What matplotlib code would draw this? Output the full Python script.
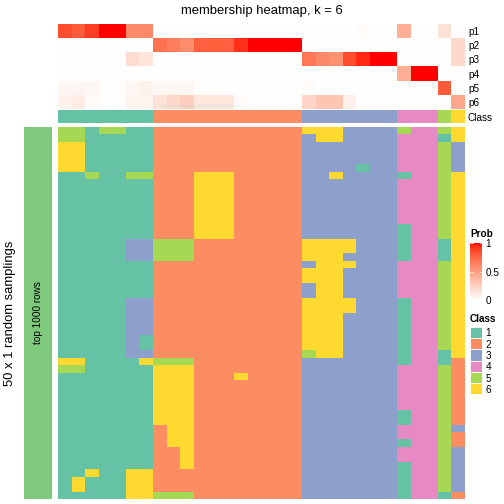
#
# Membership heatmap for k = 6: class probabilities on top, class calls
# from 50 random samplings below
#

import numpy as np
import matplotlib
matplotlib.use("Agg")
import matplotlib.pyplot as plt
from matplotlib.colors import ListedColormap, to_rgb

plt.rcParams['font.family'] = ['Liberation Sans', 'DejaVu Sans']

# membership probabilities per column (30 columns)
p1 = [0.85, 0.8, 0.9, 1, 1, 0.6, 0.6, 0, 0, 0, 0, 0, 0, 0, 0, 0, 0, 0,
      0, 0, 0, 0, 0.02, 0, 0, 0.42, 0, 0, 0.15, 0]
p2 = [0, 0, 0, 0, 0, 0, 0, 0.7, 0.65, 0.58, 0.78, 0.78, 0.78, 0.93, 1, 1, 1, 1,
      0, 0, 0, 0, 0, 0, 0, 0, 0, 0, 0, 0.2]
p3 = [0, 0, 0, 0, 0, 0.18, 0.14, 0, 0, 0, 0, 0, 0, 0, 0, 0, 0, 0,
      0.68, 0.6, 0.56, 0.85, 0.95, 1, 1, 0, 0, 0, 0, 0.2]
p4 = [0, 0, 0, 0, 0, 0, 0, 0, 0, 0, 0, 0, 0, 0, 0, 0, 0, 0,
      0, 0, 0, 0, 0, 0, 0, 0.42, 1, 1, 0, 0]
p5 = [0.05, 0.05, 0.04, 0, 0, 0.05, 0.07, 0.05, 0.05, 0.05, 0, 0, 0, 0, 0, 0, 0, 0,
      0.02, 0, 0, 0, 0, 0, 0, 0, 0, 0, 0.8, 0]
p6 = [0.07, 0.1, 0.02, 0, 0, 0.06, 0.06, 0.15, 0.2, 0.25, 0.13, 0.13, 0.13, 0.02, 0, 0, 0, 0,
      0.22, 0.3, 0.3, 0.08, 0, 0, 0, 0, 0, 0, 0, 0.45]
prob_names = ["p1", "p2", "p3", "p4", "p5", "p6"]

# consensus class of every column
col_class = [1]*7 + [2]*11 + [3]*7 + [4]*3 + [5] + [6]

# class assigned in each random sampling (one string per row, one digit per column)
samplings = [
    "551551122222222222666333354456",
    "551111122222222222366333344416",
    "661111122222222222333333344453",
    "661111122222222222333333344453",
    "661111122222222222333333344453",
    "661111122222222222333313344453",
    "115115522266622222336333314456",
    "111111122266622222333333344456",
    "111111122266622222333333344456",
    "111111122266622222333333344456",
    "111111122266622222333333344456",
    "111111122266622222333333344456",
    "111111122266622222333333344456",
    "111111122266622222333333314456",
    "111111122266622222333333314456",
    "111113355522222222666633314416",
    "111113355522222222666633314416",
    "111113355522222222666333314416",
    "111111122222222222366633344456",
    "111111122222222222666333344456",
    "111111122222222222666333344456",
    "111111122222222222366333344456",
    "111111122222222222366333344456",
    "111113322222222222666633314456",
    "111113322222222222666633314456",
    "111113322222222222666333314456",
    "111113322222222222666333314456",
    "111113322222222222666333314456",
    "111113122222222222666333314456",
    "111113122222222222666333314456",
    "111113322222222222566333314416",
    "661111655522222222333333314412",
    "551111166622222222333333344452",
    "111111166622262222333333344452",
    "111111166622222222333333344452",
    "111111166622222222333333344452",
    "111111166622222222333333344452",
    "111111166622222222333333344452",
    "111111166622222222333333314452",
    "111111166622222222333333314452",
    "111111126622222222333333344453",
    "111111126622222222333333344452",
    "111111126622222222333333314452",
    "111111122622222222333333344453",
    "111111122622222222333333344453",
    "111111122622222222333333314453",
    "116116622222222222333333314453",
    "161116622222222222333333314453",
    "161116622222222222333333314453",
    "111116655522222222333333314412",
]

class_colors = ["#66C2A5", "#FC8D62", "#8DA0CB", "#E78AC3", "#A6D854", "#FFD92F"]
class_labels = ["1", "2", "3", "4", "5", "6"]

W = H = 504.0


def px_axes(fig, x0, y0, x1, y1):
    # axes from pixel box (top-left origin)
    return fig.add_axes([x0 / W, 1 - y1 / H, (x1 - x0) / W, (y1 - y0) / H])


# white -> red ramp interpolated in LAB, like colorRamp2
M = np.array([[0.4124, 0.3576, 0.1805], [0.2126, 0.7152, 0.0722], [0.0193, 0.1192, 0.9505]])
WP = np.array([0.95047, 1.0, 1.08883])


def to_lab(rgb):
    c = np.asarray(rgb, float)
    lin = np.where(c <= 0.04045, c / 12.92, ((c + 0.055) / 1.055) ** 2.4)
    xyz = M @ lin / WP
    f = np.where(xyz > 0.008856, np.cbrt(xyz), 7.787 * xyz + 16 / 116)
    return np.array([116 * f[1] - 16, 500 * (f[0] - f[1]), 200 * (f[1] - f[2])])


def from_lab(lab):
    L, a, b = lab
    fy = (L + 16) / 116
    f = np.array([fy + a / 500, fy, fy - b / 200])
    xyz = np.where(f ** 3 > 0.008856, f ** 3, (f - 16 / 116) / 7.787) * WP
    lin = np.clip(np.linalg.solve(M, xyz), 0, 1)
    c = np.where(lin <= 0.0031308, 12.92 * lin, 1.055 * lin ** (1 / 2.4) - 0.055)
    return np.clip(c, 0, 1)


lw, lr = to_lab(to_rgb("white")), to_lab(to_rgb("red"))
prob_cmap = ListedColormap([from_lab(lw + t * (lr - lw)) for t in np.linspace(0, 1, 256)])
class_cmap = ListedColormap(class_colors)

fig = plt.figure(figsize=(7, 7), dpi=72)

prob = np.array([p1, p2, p3, p4, p5, p6])
calls = np.array([[int(ch) for ch in row] for row in samplings])

# probability annotation
ax_p = px_axes(fig, 58, 24, 465, 109)
ax_p.imshow(prob, cmap=prob_cmap, vmin=0, vmax=1, aspect='auto', interpolation='nearest')
ax_p.set_yticks(range(len(prob_names)))
ax_p.set_yticklabels(prob_names)

# class annotation
ax_c = px_axes(fig, 58, 110, 465, 123.5)
ax_c.imshow([np.array(col_class) - 1], cmap=class_cmap, vmin=-0.5, vmax=5.5,
            aspect='auto', interpolation='nearest')
ax_c.set_yticks([0])
ax_c.set_yticklabels(["Class"])

for ax in (ax_p, ax_c):
    ax.yaxis.tick_right()
    ax.tick_params(axis='y', length=0, pad=3, labelsize=10)
    ax.set_xticks([])
    for s in ax.spines.values():
        s.set_visible(False)

# main heatmap
ax_m = px_axes(fig, 58, 127, 465, 498.7)
ax_m.imshow(calls - 1, cmap=class_cmap, vmin=-0.5, vmax=5.5, aspect='auto', interpolation='nearest')
ax_m.axis('off')

# left block annotation
ax_b = px_axes(fig, 24, 127, 51.7, 498.7)
ax_b.imshow([[0]], cmap=ListedColormap(["#7FC97F"]), aspect='auto')
ax_b.axis('off')
ax_b.text(0.5, 0.5, "top 1000 rows", rotation=90, ha='center', va='center',
          fontsize=10, transform=ax_b.transAxes)

fig.text(10 / W, 1 - 313 / H, "50 x 1 random samplings", rotation=90,
         ha='center', va='center', fontsize=13)
fig.text(261.5 / W, 1 - 11 / H, "membership heatmap, k = 6", ha='center', va='center', fontsize=13)

# Prob legend
fig.text(470 / W, 1 - 234 / H, "Prob", fontsize=10, fontweight='bold', ha='left', va='center')
ax_l = px_axes(fig, 470, 243, 481.5, 300)
ax_l.imshow(np.linspace(0, 1, 200)[:, None], cmap=prob_cmap, vmin=0, vmax=1,
            aspect='auto', origin='lower', extent=[0, 1, 0, 1])
ax_l.set_xticks([])
ax_l.set_yticks([0, 0.5, 1])
ax_l.set_yticklabels(["0", "0.5", "1"])
ax_l.yaxis.tick_right()
ax_l.tick_params(axis='y', direction='in', length=2.5, width=0.8, color='white',
                 left=True, right=True, pad=4, labelsize=10)
for s in ax_l.spines.values():
    s.set_visible(False)

# Class legend
fig.text(470 / W, 1 - 318.5 / H, "Class", fontsize=10, fontweight='bold', ha='left', va='center')
ax_k = px_axes(fig, 470, 326.5, 481.5, 394.5)
ax_k.barh(range(6), 1, height=1, color=class_colors, edgecolor='white', linewidth=0.8)
ax_k.set_xlim(0, 1)
ax_k.set_ylim(5.5, -0.5)
ax_k.set_xticks([])
ax_k.set_yticks(range(6))
ax_k.set_yticklabels(class_labels)
ax_k.yaxis.tick_right()
ax_k.tick_params(axis='y', length=0, pad=4, labelsize=10)
for s in ax_k.spines.values():
    s.set_visible(False)

fig.savefig("out.png", dpi=72)
